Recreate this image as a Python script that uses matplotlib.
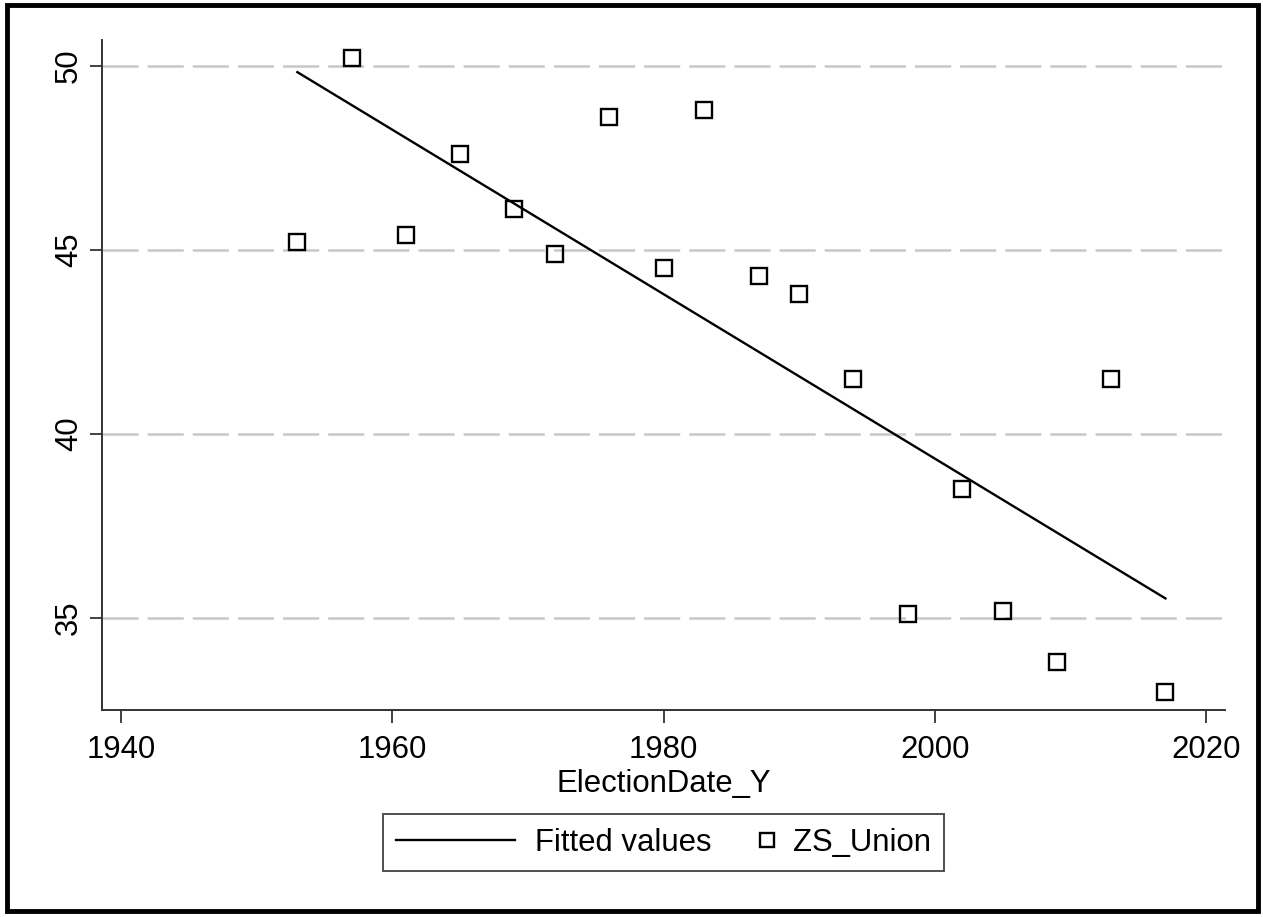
import numpy as np
import matplotlib
matplotlib.use('Agg')
import matplotlib.pyplot as plt
from matplotlib.legend_handler import HandlerLine2D
from matplotlib.patches import Rectangle

plt.rcParams['font.family'] = ['Liberation Sans', 'DejaVu Sans']
plt.rcParams['lines.scale_dashes'] = False

# ── data ─────────────────────────────────────────────────────────────────────
years = [1953, 1957, 1961, 1965, 1969, 1972, 1976, 1980, 1983, 1987,
         1990, 1994, 1998, 2002, 2005, 2009, 2013, 2017]
zs_union = [45.2, 50.2, 45.4, 47.6, 46.1, 44.9, 48.6, 44.5, 48.8, 44.3,
            43.8, 41.5, 35.1, 38.5, 35.2, 33.8, 41.5, 33.0]
x_ticks = [1940, 1960, 1980, 2000, 2020]
y_ticks = [35, 40, 45, 50]

# linear fit (Stata "Fitted values")
slope, icpt = np.polyfit(years, zs_union, 1)
fit_x = np.array([min(years), max(years)])
fit_y = icpt + slope * fit_x

FS = 22.4


class RightMarker(HandlerLine2D):
    """Put the legend marker near the right end of its handle box."""
    def get_xdata(self, legend, xdescent, ydescent, width, height, fontsize):
        xd = np.array([width - xdescent - 8.6, width - xdescent])
        return xd, xd


fig = plt.figure(figsize=(12.63, 9.17), dpi=100)
ax = fig.add_axes([0.0808, 0.2257, 0.8892, 0.7307])

line, = ax.plot(fit_x, fit_y, color='black', lw=1.7, label='Fitted values')
pts, = ax.plot(years, zs_union, ls='none', marker='s', ms=11, mfc='none',
               mec='black', mew=1.7, label='ZS_Union')

ax.set_xlim(1938.6, 2021.4)
ax.set_ylim(32.5, 50.7)
ax.set_xticks(x_ticks)
ax.set_yticks(y_ticks)
ax.set_xticklabels([str(t) for t in x_ticks], fontsize=FS)
ax.set_yticklabels([str(t) for t in y_ticks], fontsize=FS, rotation=90,
                   va='center')
ax.tick_params(axis='x', length=9, width=1.3, color='#333333', pad=9)
ax.tick_params(axis='y', length=9, width=1.3, color='#333333', pad=4)
ax.yaxis.grid(True, color='#c8c8c8', lw=1.8, ls=(0, (26, 6.5)))
ax.set_axisbelow(True)
for s in ('top', 'right'):
    ax.spines[s].set_visible(False)
for s in ('left', 'bottom'):
    ax.spines[s].set_color('#333333')
    ax.spines[s].set_linewidth(1.4)
ax.set_xlabel('ElectionDate_Y', fontsize=FS, labelpad=3)

leg = fig.legend([line, pts], ['Fitted values', 'ZS_Union'], ncol=2,
                 loc='center', bbox_to_anchor=(0.5253, 0.0812), fontsize=FS,
                 frameon=True, fancybox=False, edgecolor='#222222',
                 handlelength=3.83, handletextpad=0.64, columnspacing=-1.83,
                 borderpad=0.42, borderaxespad=0, markerscale=0.95,
                 handler_map={pts: RightMarker(numpoints=1)})
leg.get_frame().set_linewidth(1.4)

# outer black border round the whole graph
fig.patches.append(Rectangle((0.0055, 0.0065), 0.9905, 0.9880,
                             transform=fig.transFigure, fill=False,
                             ec='black', lw=3.5))

fig.savefig('out.png', dpi=100)
